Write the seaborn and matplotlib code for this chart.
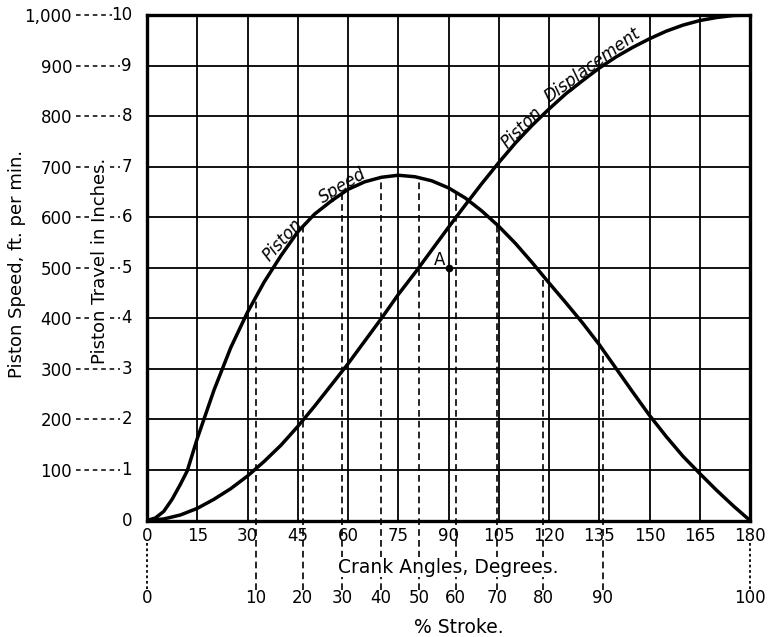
import numpy as np
import pandas as pd
import matplotlib
matplotlib.use("Agg")
import matplotlib.pyplot as plt
import matplotlib.transforms as mtransforms
from matplotlib.lines import Line2D
import seaborn as sns

# ---- data ----
speed_angles = [0, 2.5, 5, 7.5, 10, 12, 15, 20, 25, 30, 35, 40, 45, 50, 55, 60, 65, 70, 75,
                80, 85, 90, 95, 100, 105, 110, 115, 120, 125, 130, 135, 140, 145, 150, 155,
                160, 165, 170, 175, 180]
piston_speed = [0, 5, 18, 42, 72, 98, 162, 258, 342, 412, 472, 524, 571, 606, 632, 655, 670,
                679, 683, 680, 672, 658, 638, 612, 582, 548, 510, 470, 431, 391, 348, 301,
                254, 208, 166, 127, 93, 60, 29, 0]

disp_angles = [0, 5, 10, 15, 20, 25, 30, 35, 40, 45, 50, 55, 60, 65, 70, 75, 80, 85, 90, 95,
               100, 105, 110, 115, 120, 125, 130, 135, 140, 145, 150, 155, 160, 165, 170, 175, 180]
piston_travel_in = [0, 0.03, 0.11, 0.24, 0.42, 0.63, 0.88, 1.17, 1.49, 1.86, 2.26, 2.68, 3.10,
                    3.55, 4.00, 4.47, 4.90, 5.35, 5.80, 6.24, 6.67, 7.08, 7.47, 7.82, 8.14, 8.44,
                    8.70, 8.95, 9.17, 9.36, 9.53, 9.68, 9.80, 9.89, 9.95, 9.99, 10.0]

stroke_pct = [0, 10, 20, 30, 40, 50, 60, 70, 80, 90, 100]
stroke_angle = [0, 32.5, 46.5, 58.2, 69.9, 81.2, 92.2, 104.4, 118.3, 136.0, 180]

crank_ticks = [0, 15, 30, 45, 60, 75, 90, 105, 120, 135, 150, 165, 180]
speed_ticks = [0, 100, 200, 300, 400, 500, 600, 700, 800, 900, 1000]
speed_tick_labels = ["", "100", "200", "300", "400", "500", "600", "700", "800", "900", "1,000"]
inch_tick_labels = ["0", "1", "2", "3", "4", "5", "6", "7", "8", "9", "10"]
point_a = (90, 500)

# ---- styling ----
sns.set_style("white")
plt.rcParams['font.family'] = ['DejaVu Sans']
plt.rcParams['text.color'] = 'black'
plt.rcParams['xtick.color'] = 'black'
plt.rcParams['ytick.color'] = 'black'

W, H = 777, 637
fig = plt.figure(figsize=(W / 100, H / 100), dpi=100)
ax = fig.add_axes([147 / W, 1 - 520.5 / H, (750 - 147) / W, (520.5 - 15) / H])

speed_df = pd.DataFrame({"angle": speed_angles, "value": piston_speed})
disp_df = pd.DataFrame({"angle": disp_angles,
                        "value": [v * 100 for v in piston_travel_in]})

sns.lineplot(data=speed_df, x="angle", y="value", ax=ax, color="black", lw=2.5,
             zorder=5, sort=False)
sns.lineplot(data=disp_df, x="angle", y="value", ax=ax, color="black", lw=2.5,
             zorder=5, sort=False)

ax.set_xlim(0, 180)
ax.set_ylim(0, 1000)
ax.set_xticks(crank_ticks)
ax.set_xticklabels([str(t) for t in crank_ticks], fontsize=12)
ax.set_yticks(speed_ticks)
ax.set_yticklabels(speed_tick_labels, fontsize=12)
ax.tick_params(axis="both", length=0)
ax.tick_params(axis="x", pad=5)
ax.tick_params(axis="y", pad=54)
ax.grid(True, color="black", lw=1.3)
ax.set_axisbelow(True)
for side, sp in ax.spines.items():
    sp.set_visible(True)
    sp.set_color("black")
    sp.set_linewidth(2.4)
ax.set_xlabel("")
ax.set_ylabel("")

# inch labels and leader dashes in the left margin
blend = mtransforms.blended_transform_factory(fig.transFigure, ax.transData)
for val, lab in zip(speed_ticks, inch_tick_labels):
    ax.text(132 / W, val, lab, transform=blend, ha="right", va="center", fontsize=12,
            clip_on=False)
    if val > 0:
        x_end = 112 if len(lab) > 1 else 120
        ln = Line2D([76 / W, x_end / W], [val, val], transform=blend, color="black",
                    lw=1.1, ls=(0, (3, 2.5)), clip_on=False)
        fig.add_artist(ln)

# dashed stroke lines
for pct, ang in zip(stroke_pct, stroke_angle):
    if pct in (0, 100):
        ax.plot([ang, ang], [-45, -138], color="black", lw=1.3, ls=(0, (1.5, 1.5)),
                clip_on=False, zorder=3)
    else:
        top = np.interp(ang, speed_angles, piston_speed)
        ax.plot([ang, ang], [-138, top], color="black", lw=1.2, ls=(0, (4, 2.5)),
                clip_on=False, zorder=3)
    ax.text(ang, -153, str(pct), ha="center", va="center", fontsize=12, clip_on=False)

ax.text(90, -92, "Crank Angles, Degrees.", ha="center", va="center", fontsize=13.5,
        clip_on=False, bbox=dict(facecolor="white", edgecolor="none", pad=0.5))
ax.text(93, -211, "% Stroke.", ha="center", va="center", fontsize=13.5, clip_on=False)

# point A
ax.plot([point_a[0]], [point_a[1]], "o", color="black", ms=4.5, zorder=6)
ax.text(point_a[0] - 2.8, point_a[1] + 15, "A", ha="center", va="center", fontsize=12,
        zorder=6)

# curve annotations
ax.text(40.4, 555, "Piston", rotation=48, ha="center", va="center", fontsize=12,
        style="italic", zorder=6)
ax.text(58.5, 662, "Speed", rotation=31, ha="center", va="center", fontsize=12,
        style="italic", zorder=6)
ax.text(111.8, 778, "Piston", rotation=45, ha="center", va="center", fontsize=12,
        style="italic", zorder=6)
ax.text(133, 900, "Displacement", rotation=36, ha="center", va="center", fontsize=12,
        style="italic", zorder=6)

# axis titles
fig.text(17 / W, 1 - 264 / H, "Piston Speed, ft. per min.", rotation=90, ha="center",
         va="center", fontsize=13)
fig.text(100 / W, 1 - 261 / H, "Piston Travel in Inches.", rotation=90, ha="center",
         va="center", fontsize=13, zorder=10,
         bbox=dict(facecolor="white", edgecolor="none", pad=0.5))

fig.savefig("out.png", dpi=100, facecolor="white")
